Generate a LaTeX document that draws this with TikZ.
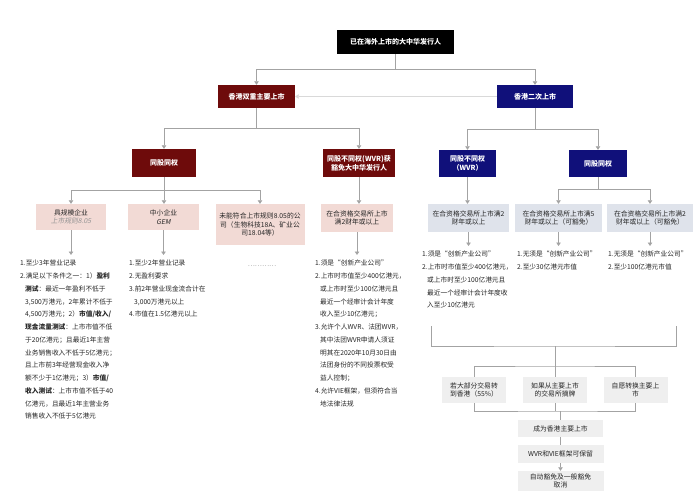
\documentclass[tikz,border=0pt]{standalone}
\usepackage{fontspec}
\setmainfont{Noto Sans CJK SC}
\newfontfamily\slantfont{Noto Sans CJK SC}[FakeSlant=0.2]
\usepackage{tikz}
\usetikzlibrary{arrows.meta}
\definecolor{hkred}{HTML}{6E0B0B}
\definecolor{hkblue}{HTML}{10107A}
\definecolor{palered}{HTML}{F2DAD5}
\definecolor{paleblue}{HTML}{DFE3EB}
\definecolor{palegrey}{HTML}{EFEFEF}
\definecolor{linegrey}{HTML}{A3A3A3}
\definecolor{txtgrey}{HTML}{262626}
\newcommand{\ind}{\hspace*{5pt}}
\tikzset{
  darkbox/.style={fill=#1, text=white, font=\fontsize{7}{9}\selectfont\bfseries, align=center, inner sep=1pt},
  litebox/.style={fill=#1, text=txtgrey, font=\fontsize{6.8}{8.6}\selectfont, align=center, inner sep=1pt},
  conn/.style={draw=linegrey, line width=0.7pt},
  arr/.style={conn, -{Triangle[width=4.5pt,length=3.5pt]}},
  toreq/.style={arr, shorten >=5pt},
  req/.style={anchor=north west, inner sep=0pt, align=left, text=txtgrey, font=\fontsize{6.7}{12.75}\selectfont}
}
\begin{document}
\begin{tikzpicture}[x=1pt,y=-1pt]
\fill[white] (0,0) rectangle (700,497);
% top of the tree
\node[darkbox=black, minimum width=117pt, minimum height=24pt] (issuer) at (395.5,42) {已在海外上市的大中华发行人};
\node[darkbox=hkred, minimum width=77pt, minimum height=23pt] (dualpri) at (256.5,96.5) {香港双重主要上市};
\node[darkbox=hkblue, minimum width=76pt, minimum height=23pt] (secondary) at (535,96.5) {香港二次上市};
\draw[arr] (issuer.south) -- ++(0,15) -| (dualpri.north);
\draw[arr] (issuer.south) -- ++(0,15) -| (secondary.north);
\draw[arr, draw=gray!30] (secondary) -- (dualpri);
% share classes
\node[darkbox=hkred, minimum width=64pt, minimum height=28pt] (dpsame) at (164,163) {同股同权};
\node[darkbox=hkred, minimum width=72pt, minimum height=28pt] (dpwvr) at (359,163) {同股不同权(WVR)获\\豁免大中华发行人};
\node[darkbox=hkblue, minimum width=57pt, minimum height=27pt] (secwvr) at (467.5,163.5) {同股不同权\\（WVR）};
\node[darkbox=hkblue, minimum width=58pt, minimum height=27pt] (secsame) at (598,163.5) {同股同权};
\draw[arr] (dualpri.south) -- ++(0,20) -| (dpsame.north);
\draw[arr] (dualpri.south) -- ++(0,20) -| (dpwvr.north);
\draw[arr] (secondary.south) -- ++(0,21) -| (secwvr.north);
\draw[arr] (secondary.south) -- ++(0,21) -| (secsame.north);
% issuer types
\node[litebox=palered, minimum width=70pt, minimum height=26pt] (large) at (71,217) {具规模企业\\{\slantfont\color{gray!85}上市规则8.05}};
\node[litebox=palered, minimum width=71pt, minimum height=26pt] (sme) at (163.5,217) {中小企业\\{\slantfont GEM}};
\node[litebox=palered, minimum width=89pt, minimum height=41pt] (bio) at (260,224.5) {未能符合上市规则8.05的公\\司（生物科技18A、矿业公\\司18.04等）};
\node[litebox=palered, minimum width=72pt, minimum height=28pt] (wvrtwo) at (357,218) {在合资格交易所上市\\满2财年或以上};
\node[litebox=paleblue, minimum width=81pt, minimum height=28pt] (secwvrtwo) at (468.5,218) {在合资格交易所上市满2\\财年或以上};
\node[litebox=paleblue, minimum width=87pt, minimum height=28pt] (secfive) at (558.5,218) {在合资格交易所上市满5\\财年或以上（可豁免）};
\node[litebox=paleblue, minimum width=86pt, minimum height=28pt] (sectwo) at (650,218) {在合资格交易所上市满2\\财年或以上（可豁免）};
\draw[arr] (dpsame.south) -- ++(0,13) -| (large.north);
\draw[arr] (dpsame.south) -- (dpsame.south |- sme.north);
\draw[arr] (dpsame.south) -- ++(0,13) -| (bio.north);
\draw[arr] (dpwvr.south) -- (dpwvr.south |- wvrtwo.north);
\draw[arr] (secwvr.south) -- (secwvr.south |- secwvrtwo.north);
\draw[arr] (secsame.south) -- ++(0,12) -| (secfive.north);
\draw[arr] (secsame.south) -- ++(0,12) -| (sectwo.north);
% requirements
\node[req] (largereq) at (20,260) {1.至少3年营业记录\\
2.满足以下条件之一：1）\textbf{盈利}\\
\ind\textbf{测试}：最近一年盈利不低于\\
\ind 3,500万港元，2年累计不低于\\
\ind 4,500万港元；2）\textbf{市值/收入/}\\
\ind\textbf{现金流量测试}：上市市值不低\\
\ind 于20亿港元；且最近1年主营\\
\ind 业务销售收入不低于5亿港元；\\
\ind 且上市前3年经营现金收入净\\
\ind 额不少于1亿港元；3）\textbf{市值/}\\
\ind\textbf{收入测试}：上市市值不低于40\\
\ind 亿港元，且最近1年主营业务\\
\ind 销售收入不低于5亿港元};
\node[req] (smereq) at (129,260) {1.至少2年营业记录\\
2.无盈利要求\\
3.前2年营业现金流合计在\\
\ind 3,000万港元以上\\
4.市值在1.5亿港元以上};
\node[text=gray, inner sep=0pt, font=\fontsize{6.7}{8}\selectfont] (more) at (262,266) {…………};
\node[req] (wvrreq) at (315,260) {1.须是“创新产业公司”\\
2.上市时市值至少400亿港元，\\
\ind 或上市时至少100亿港元且\\
\ind 最近一个经审计会计年度\\
\ind 收入至少10亿港元；\\
3.允许个人WVR、法团WVR，\\
\ind 其中法团WVR申请人须证\\
\ind 明其在2020年10月30日由\\
\ind 法团身份的不同投票权受\\
\ind 益人控制；\\
4.允许VIE框架，但须符合当\\
\ind 地法律法规};
\node[req] (secwvrreq) at (422,251) {1.须是“创新产业公司”\\
2.上市时市值至少400亿港元，\\
\ind 或上市时至少100亿港元且\\
\ind 最近一个经审计会计年度收\\
\ind 入至少10亿港元};
\node[req] (secfivereq) at (517,251) {1.无须是“创新产业公司”\\
2.至少30亿港元市值};
\node[req] (sectworeq) at (608,251) {1.无须是“创新产业公司”\\
2.至少100亿港元市值};
\draw[toreq] (large.south) -- (large.south |- largereq.north);
\draw[toreq] (sme.south) -- (sme.south |- smereq.north);
\draw[toreq] (wvrtwo.south) -- (wvrtwo.south |- wvrreq.north);
\draw[toreq] (secwvrtwo.south) -- (secwvrtwo.south |- secwvrreq.north);
\draw[toreq] (secfive.south) -- (secfive.south |- secfivereq.north);
\draw[toreq] (sectwo.south) -- (sectwo.south |- sectworeq.north);
% becoming a primary listing
\coordinate (brl) at (431,326);
\coordinate (brr) at (676,326);
\coordinate (brm) at (555,346);
\coordinate (split) at (555,366);
\coordinate (merge) at (560.5,411);
\node[litebox=palegrey, minimum width=64pt, minimum height=26pt] (majority) at (474,390) {若大部分交易转\\到香港（55\%）};
\node[litebox=palegrey, minimum width=64pt, minimum height=26pt] (delist) at (555,390) {如果从主要上市\\的交易所摘牌};
\node[litebox=palegrey, minimum width=64pt, minimum height=26pt] (voluntary) at (635.5,390) {自愿转换主要上\\市};
\node[litebox=palegrey, minimum width=85pt, minimum height=17pt] (becomepri) at (560.5,428.5) {成为香港主要上市};
\node[litebox=palegrey, minimum width=86pt, minimum height=18pt] (keep) at (560.5,454) {WVR和VIE框架可保留};
\node[litebox=palegrey, minimum width=86pt, minimum height=20pt] (cancel) at (560.5,481) {自动豁免及一般豁免\\取消};
\draw[conn] (brl) |- (brm) -| (brr);
\draw[conn] (brm) -- (delist.north);
\draw[conn] (majority.north) |- (split) -| (voluntary.north);
\draw[conn] (majority.south) |- (merge) -| (voluntary.south);
\draw[conn] (delist.south) -- (delist.south |- merge);
\draw[conn] (merge) -- (becomepri.north);
\draw[conn] (becomepri) -- (keep);
\draw[arr] (keep) -- (cancel);
\end{tikzpicture}
\end{document}
